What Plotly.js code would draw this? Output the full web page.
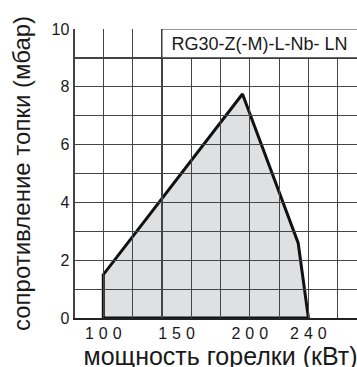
<!DOCTYPE html>
<html>
<head>
<meta charset="utf-8">
<script src="https://cdn.plot.ly/plotly-3.0.1.min.js"></script>
<style>
html,body{margin:0;padding:0;overflow:hidden;background:#fff;}
#chart{width:380px;height:375px;}
</style>
</head>
<body>
<div id="chart"></div>
<script>
// Data
const powerKW = [100, 100, 195, 233, 240, 100];      // burner power (kW)
const pressureMbar = [0, 1.5, 7.75, 2.6, 0, 0];       // combustion chamber resistance (mbar)
const xTickVals = [100, 150, 200, 240];
const xTickText = ['100', '150', '200', '240'];
const yTickVals = [0, 2, 4, 6, 8, 10];
const modelLabel = 'RG30-Z(-M)-L-Nb- LN';
const xTitle = 'мощность горелки (кВт)';
const yTitle = 'сопротивление топки (мбар)';

const FONT = 'Liberation Sans, Arial, Helvetica, sans-serif';
const GRID = '#444444';
const INK = '#1a1a1a';
const PLOT_W = 293, PLOT_H = 289;

const trace = {
  x: powerKW, y: pressureMbar,
  type: 'scatter', mode: 'lines',
  fill: 'toself', fillcolor: '#dfe0e2',
  line: {color: '#111111', width: 3},
  hoverinfo: 'skip', showlegend: false
};

const layout = {
  width: 380, height: 375,
  margin: {l: 74, r: 13, t: 29, b: 57},
  paper_bgcolor: '#ffffff', plot_bgcolor: '#ffffff',
  font: {family: FONT, color: INK},
  showlegend: false,
  title: {
    text: modelLabel, xref: 'paper', yref: 'paper', x: 0.333, y: 0.95,
    xanchor: 'left', yanchor: 'middle', font: {family: FONT, size: 18, color: INK}
  },
  xaxis: {
    range: [80, 280], tickmode: 'array', tickvals: xTickVals, ticktext: xTickText,
    showgrid: false, ticks: 'outside', ticklen: 0, zeroline: false, automargin: false,
    minor: {tick0: 80, dtick: 20, ticks: 'inside', ticklen: PLOT_H, tickcolor: GRID, tickwidth: 1.2,
            showgrid: true, gridcolor: GRID, gridwidth: 1.2},
    showline: true, linecolor: '#222', linewidth: 1.5,
    tickfont: {family: FONT, size: 16, color: INK},
    title: {text: xTitle, font: {family: FONT, size: 25, color: INK}, standoff: 2}
  },
  yaxis: {
    range: [0, 10], tickmode: 'array', tickvals: yTickVals,
    showgrid: true, gridcolor: GRID, gridwidth: 1.2,
    ticks: 'inside', ticklen: PLOT_W, tickcolor: GRID, tickwidth: 1.2,
    minor: {dtick: 1, tick0: 0, ticks: 'inside', ticklen: PLOT_W, tickcolor: GRID, tickwidth: 1.2,
            showgrid: true, gridcolor: GRID, gridwidth: 1.2},
    zeroline: false, ticklabelstandoff: 0, automargin: false,
    showline: true, linecolor: '#222', linewidth: 1.5,
    tickfont: {family: FONT, size: 16, color: INK},
    title: {text: yTitle, font: {family: FONT, size: 24, color: INK}, standoff: 14}
  },
  shapes: [{
    type: 'rect', xref: 'x', yref: 'y', x0: 140, x1: 300, y0: 9, y1: 10,
    fillcolor: '#ffffff', line: {color: '#333', width: 1.2}, layer: 'above'
  }]
};

Plotly.newPlot('chart', [trace], layout, {staticPlot: true, displayModeBar: false}).then(function(){
  document.querySelectorAll('.xtick text').forEach(function(t){
    t.style.letterSpacing = '5px';
    t.setAttribute('dx', '2.5');
  });
});
</script>
</body>
</html>
